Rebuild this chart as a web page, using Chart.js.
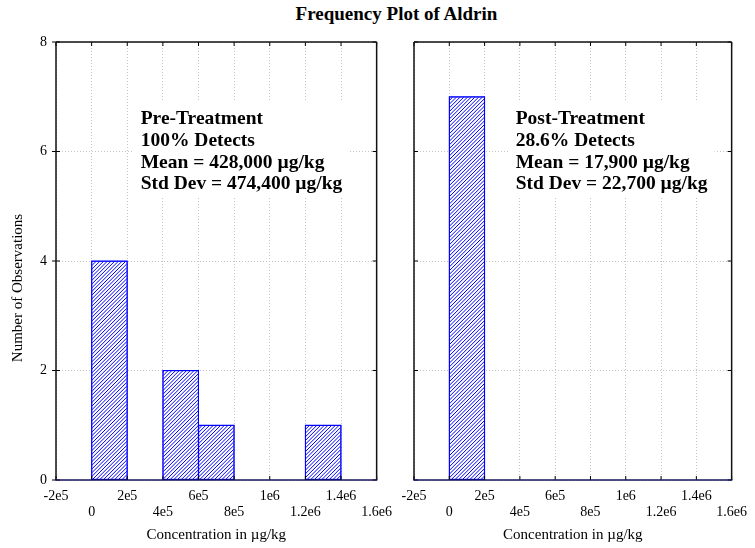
<!DOCTYPE html>
<html><head><meta charset="utf-8">
<script src="https://cdn.jsdelivr.net/npm/chart.js@4/dist/chart.umd.min.js"></script>
<style>
html,body{margin:0;padding:0;background:#fff;overflow:hidden;width:755px;height:548px;}
#title{position:absolute;left:396.5px;top:3px;transform:translateX(-50%);font:bold 19px "Liberation Serif","Times New Roman",serif;line-height:22px;white-space:nowrap;color:#000;}
canvas{position:absolute;top:0;}
#c1{left:0;} #c2{left:370px;}
</style></head><body>
<div id="title">Frequency Plot of Aldrin</div>
<canvas id="c1" width="400" height="548"></canvas>
<canvas id="c2" width="385" height="548"></canvas>
<script>
// ---- data ----
const binStarts = [0, 200000, 400000, 600000, 800000, 1000000, 1200000];
const binWidth = 200000;
const preCounts = [4, 0, 2, 1, 0, 0, 1];
const postCounts = [7, 0, 0, 0, 0, 0, 0];
const xTickLabels = ['-2e5', '0', '2e5', '4e5', '6e5', '8e5', '1e6', '1.2e6', '1.4e6', '1.6e6'];
const yTickLabels = ['0', '2', '4', '6', '8'];
const preText = ['Pre-Treatment', '100% Detects', 'Mean = 428,000 µg/kg', 'Std Dev = 474,400 µg/kg'];
const postText = ['Post-Treatment', '28.6% Detects', 'Mean = 17,900 µg/kg', 'Std Dev = 22,700 µg/kg'];
const xTitle = 'Concentration in µg/kg';
const yTitle = 'Number of Observations';

const SERIF = '"Liberation Serif","Times New Roman",serif';
const BLUE = '#0000ff';

function toPoints(counts) {
  return binStarts.map((b, i) => ({ x: b + binWidth / 2, y: counts[i] > 0 ? counts[i] : null }));
}

// hatch the bars the library has laid out (diagonal "/" lines)
const hatchPlugin = {
  id: 'hatch',
  afterDatasetDraw(chart, args) {
    const { ctx } = chart;
    const sp = 3.7;
    args.meta.data.forEach(el => {
      const p = el.getProps(['x', 'y', 'base', 'width'], true);
      if (p.y == null || isNaN(p.y) || Math.abs(p.base - p.y) < 0.5) return;
      const x1 = p.x - p.width / 2, x2 = p.x + p.width / 2;
      const y1 = Math.min(p.y, p.base), y2 = Math.max(p.y, p.base);
      const h = y2 - y1;
      ctx.save();
      ctx.beginPath();
      ctx.rect(x1 + 0.5, y1 + 0.5, x2 - x1 - 1, h - 1);
      ctx.clip();
      ctx.strokeStyle = BLUE;
      ctx.lineWidth = 1;
      ctx.beginPath();
      const start = Math.floor((x1 - h) / sp) * sp;
      for (let c = start; c <= x2 + sp; c += sp) {
        ctx.moveTo(c, y2);
        ctx.lineTo(c + h, y2 - h);
      }
      ctx.stroke();
      ctx.restore();
      ctx.save();
      ctx.strokeStyle = BLUE;
      ctx.lineWidth = 1;
      ctx.strokeRect(x1, y1, x2 - x1, h);
      ctx.restore();
    });
  }
};

const framePlugin = {
  id: 'frame',
  afterDatasetsDraw(chart, args, opts) {
    const { ctx, chartArea: a } = chart;
    ctx.save();
    ctx.font = 'bold 19.5px ' + SERIF;
    ctx.textBaseline = 'alphabetic';
    ctx.textAlign = 'left';
    const lines = opts.lines;
    const x0 = a.left + opts.dx;
    const base0 = a.top + 82;
    const step = 21.8;
    let w = 0;
    lines.forEach(l => { w = Math.max(w, ctx.measureText(l).width); });
    ctx.fillStyle = '#fff';
    ctx.fillRect(x0 - 7, base0 - 22, w + 14, step * (lines.length - 1) + 30);
    ctx.fillStyle = '#000';
    lines.forEach((l, i) => ctx.fillText(l, x0, base0 + i * step));
    ctx.restore();
  },
  afterDraw(chart, args, opts) {
    const { ctx, chartArea: a, scales } = chart;
    const x = scales.x, y = scales.y;
    ctx.save();
    ctx.strokeStyle = '#000';
    ctx.lineWidth = 1;
    const line = (x1, y1, x2, y2) => { ctx.beginPath(); ctx.moveTo(x1, y1); ctx.lineTo(x2, y2); ctx.stroke(); };
    x.ticks.forEach((t, i) => {
      const px = x.getPixelForTick(i);
      line(px, a.top, px, a.top + 4);
      line(px, a.bottom, px, a.bottom - 4);
    });
    y.ticks.forEach((t, i) => {
      const py = y.getPixelForTick(i);
      line(a.left, py, a.left + 4, py);
      line(a.right, py, a.right - 4, py);
      if (opts.outer) line(a.left - 4, py, a.left, py);
    });
    ctx.lineWidth = 1.5;
    ctx.strokeStyle = '#111';
    line(a.left, a.top, a.right, a.top);
    line(a.left, a.top, a.left, a.bottom);
    line(a.right, a.top, a.right, a.bottom);
    ctx.strokeStyle = '#14145a';
    line(a.left - 0.7, a.bottom, a.right + 0.7, a.bottom);
    if (opts.yTitle) {
      ctx.translate(18, 288);
      ctx.rotate(-Math.PI / 2);
      ctx.font = '15px ' + SERIF;
      ctx.fillStyle = '#000';
      ctx.textAlign = 'center';
      ctx.textBaseline = 'middle';
      ctx.fillText(opts.yTitle, 0, 0);
    }
    ctx.restore();
  }
};

function makeChart(id, counts, lines, isLeft) {
  const grid = { color: '#c4c4c4', lineWidth: 1, drawTicks: false };
  const border = { display: false, dash: [1, 2] };
  return new Chart(document.getElementById(id), {
    type: 'bar',
    data: {
      datasets: [{
        data: toPoints(counts),
        backgroundColor: '#ffffff',
        borderColor: BLUE,
        borderWidth: 1,
        borderSkipped: false,
        barPercentage: 1,
        categoryPercentage: 1
      }]
    },
    options: {
      responsive: false,
      animation: false,
      events: [],
      layout: { padding: isLeft ? { left: 0, right: 22, top: 42, bottom: 2 } : { left: 44, right: 18, top: 42, bottom: 2 } },
      plugins: {
        legend: { display: false },
        tooltip: { enabled: false },
        frame: { lines: lines, dx: isLeft ? 84.7 : 101.7, outer: isLeft, yTitle: isLeft ? yTitle : null }
      },
      scales: {
        x: {
          type: 'linear',
          min: -200000, max: 1600000,
          offset: false,
          grid: Object.assign({ offset: false }, grid),
          border: border,
          ticks: {
            stepSize: 200000,
            autoSkip: false,
            maxRotation: 0, minRotation: 0,
            padding: 8,
            color: '#000',
            font: { family: SERIF, size: 14, lineHeight: 16 / 14 },
            callback: (v, i) => i % 2 === 0 ? xTickLabels[i] : ['', xTickLabels[i]]
          },
          title: {
            display: true, text: xTitle, color: '#000',
            font: { family: SERIF, size: 15, lineHeight: 1.2 },
            padding: { top: 0, bottom: 2 }
          },
          afterFit: s => { s.height = 66; }
        },
        y: {
          type: 'linear',
          min: 0, max: 8,
          grid: grid,
          border: border,
          ticks: {
            display: isLeft,
            stepSize: 2,
            padding: 9,
            color: '#000',
            font: { family: SERIF, size: 14 },
            callback: (v, i) => yTickLabels[i]
          },
          afterFit: s => { s.width = isLeft ? 56 : 0; }
        }
      }
    },
    plugins: [hatchPlugin, framePlugin]
  });
}

makeChart('c1', preCounts, preText, true);
makeChart('c2', postCounts, postText, false);
</script>
</body></html>
